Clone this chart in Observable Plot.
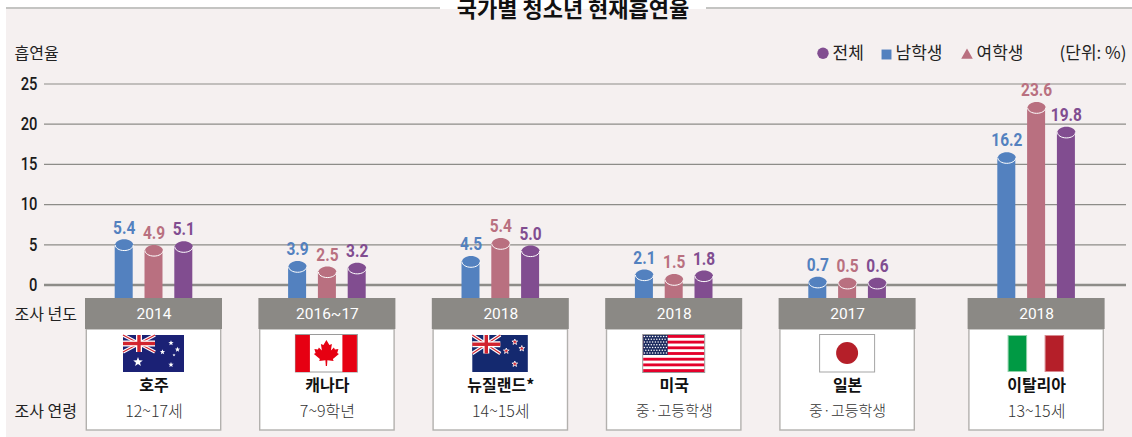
<!DOCTYPE html>
<html><head><meta charset="utf-8">
<script src="https://cdn.jsdelivr.net/npm/d3@7"></script>
<script src="https://cdn.jsdelivr.net/npm/@observablehq/plot@0.6"></script>
<style>
html,body{margin:0;padding:0;background:#fff;width:1132px;height:437px;overflow:hidden}
#bg{position:absolute;left:6px;top:7px;right:0;bottom:0;background:#f5f0f0;border-top:2px solid #c4c4c2}
#chart{position:absolute;left:0;top:0}
</style></head><body><div id="bg"></div><div id="chart"></div>
<script>
const countries=["호주","캐나다","뉴질랜드*","미국","일본","이탈리아"];
const surveyYears=["2014","2016~17","2018","2018","2017","2018"];
const surveyAges=["12~17세","7~9학년","14~15세","중·고등학생","중·고등학생","13~15세"];
const groupSlots=[0,1,2,3,4,5.09];
const seriesNames=["남학생","여학생","전체"];
const male=[5.4,3.9,4.5,2.1,0.7,16.2];
const female=[4.9,2.5,5.4,1.5,0.5,23.6];
const total=[5.1,3.2,5.0,1.8,0.6,19.8];
// height of each cylinder's top as drawn in the picture, in axis units
const maleDrawn=[4.98,2.28,2.90,1.24,0.34,15.83];
const femaleDrawn=[4.29,1.62,5.14,0.66,0.21,22.05];
const totalDrawn=[4.76,2.08,4.23,1.12,0.21,18.99];
const yTicks=[0,5,10,15,20,25];

const colors={"남학생":"#5381bf","여학생":"#b97080","전체":"#814d90"};
const KR='"Noto Sans CJK KR",sans-serif';
const NUM='Roboto,"Noto Sans CJK KR",sans-serif';
const W=1132,H=437,STEP=173.4,X0=153.5,Y0=284.5,UNIT=8.04;
const offset=29.8/STEP;
const bars=[];
[[male,maleDrawn],[female,femaleDrawn],[total,totalDrawn]].forEach(([v,d],s)=>{
  v.forEach((val,i)=>bars.push({i,series:seriesNames[s],value:val,drawn:d[i],x:groupSlots[i]+(s-1)*offset}));
});
const groups=countries.map((c,i)=>({c,slot:groupSlots[i],year:surveyYears[i],age:surveyAges[i]}));
const barHalf=9/STEP;
const ellipse=(rx,ry)=>({draw(ctx){const k=0.5523;
  ctx.moveTo(-rx,0);ctx.bezierCurveTo(-rx,-ry*k,-rx*k,-ry,0,-ry);ctx.bezierCurveTo(rx*k,-ry,rx,-ry*k,rx,0);
  ctx.bezierCurveTo(rx,ry*k,rx*k,ry,0,ry);ctx.bezierCurveTo(-rx*k,ry,-rx,ry*k,-rx,0);ctx.closePath();}});
const lowerArc=(rx,ry)=>({draw(ctx){const k=0.5523;
  ctx.moveTo(-rx,0);ctx.bezierCurveTo(-rx,ry*k,-rx*k,ry,0,ry);ctx.bezierCurveTo(rx*k,ry,rx,ry*k,rx,0);}});
const put=(t,px,py,o={})=>Plot.text([t],{frameAnchor:"top-left",dx:px,dy:py,textAnchor:"start",lineAnchor:"middle",fontFamily:KR,fontSize:16,fill:"#222",...o});
const glyph=(sym,px,py,fill,r)=>Plot.dot([0],{frameAnchor:"top-left",dx:px,dy:py,symbol:sym,fill,r,stroke:"none"});
// condensed digits: no narrow face is installed, so the glyphs are squeezed horizontally
const squeeze=k=>function(index,scales,values,dims,ctx,next){
  const g=next(index,scales,values,dims,ctx);
  g.querySelectorAll("text").forEach(t=>t.setAttribute("transform",(t.getAttribute("transform")||"")+` scale(${k},1)`));
  return g;
};

function star(g,cx,cy,r,fill,stroke){
  const p=[];for(let i=0;i<10;i++){const a=-Math.PI/2+i*Math.PI/5,q=i%2?r*.42:r;p.push([cx+q*Math.cos(a),cy+q*Math.sin(a)]);}
  g.append("polygon").attr("points",p.join(" ")).attr("fill",fill).attr("stroke",stroke||"none").attr("stroke-width",stroke?.8:0);
}
function rect(g,x,y,w,h,fill){return g.append("rect").attr("x",x).attr("y",y).attr("width",w).attr("height",h).attr("fill",fill);}
function jack(g,x,y,w,h,blue){
  rect(g,x,y,w,h,blue);
  const l=(a,b,c,d,s,sw)=>g.append("line").attr("x1",a).attr("y1",b).attr("x2",c).attr("y2",d).attr("stroke",s).attr("stroke-width",sw);
  l(x,y,x+w,y+h,"#fff",3.4);l(x+w,y,x,y+h,"#fff",3.4);
  l(x,y,x+w,y+h,"#d2232e",1.2);l(x+w,y,x,y+h,"#d2232e",1.2);
  rect(g,x+w/2-3,y,6,h,"#fff");rect(g,x,y+h/2-3,w,6,"#fff");
  rect(g,x+w/2-1.7,y,3.4,h,"#d2232e");rect(g,x,y+h/2-1.7,w,3.4,"#d2232e");
}
function flags(index,scales){
  const root=d3.create("svg:g");
  const at=i=>root.append("g").attr("transform",`translate(${scales.x(groupSlots[i])},0)`);
  // Australia
  let g=at(0);rect(g,-30.5,335,61,37,"#1b2175");jack(g,-30.5,335,32,17,"#1b2175");
  star(g,-15.5,362,5,"#fff");[[17.5,343],[9,352],[24,349.5],[17.5,364.7],[20.5,355]].forEach(([x,y],k)=>star(g,x,y,k==4?1.6:2.8,"#fff"));
  // Canada
  g=at(1);rect(g,-31.5,334.5,62,37.5,"#fff").attr("stroke","#9a9a9a");rect(g,-31.5,335,14.5,37,"#e60012");rect(g,15.5,335,14.5,37,"#e60012");
  g.append("path").attr("fill","#e60012").attr("transform","translate(-0.5,353)")
   .attr("d","M0,-13 L3,-8 L5.5,-9 L4.5,-2.5 L7.5,-5.5 L8.5,-3.5 L12,-4 L10.8,0 L12.5,1 L6.5,6 L7.2,8 L1,7.3 L0.6,13 L-0.6,13 L-1,7.3 L-7.2,8 L-6.5,6 L-12.5,1 L-10.8,0 L-12,-4 L-8.5,-3.5 L-7.5,-5.5 L-4.5,-2.5 L-5.5,-9 L-3,-8 Z");
  // New Zealand
  g=at(2);rect(g,-28,335,55.5,37,"#14296f");jack(g,-28,335,28,18.5,"#14296f");
  [[14.5,342],[21.5,348.5],[6,351],[14.5,364]].forEach(([x,y])=>star(g,x,y,3,"#d2232e","#fff"));
  // USA
  g=at(3);rect(g,-31,334.5,62,38,"#fff").attr("stroke","#9a9a9a");
  for(let k=0;k<7;k++)rect(g,-30.5,335+k*2*37/13,61,37/13,"#e4002b");
  rect(g,-30.5,335,24.5,20,"#1c2b5f");
  for(let r=0;r<7;r++)for(let c=0;c<(r%2?8:9);c++)g.append("circle").attr("cx",-29.3+(r%2?1.4:0)+c*2.75).attr("cy",336.6+r*2.75).attr("r",.75).attr("fill","#fff");
  // Japan
  g=at(4);rect(g,-27.5,334.5,55,37.5,"#fff").attr("stroke","#a5a5a5");g.append("circle").attr("cx",0).attr("cy",353).attr("r",11).attr("fill","#b51f29");
  // Italy
  g=at(5);rect(g,-28,335.5,18.5,36,"#009a44").attr("stroke","#8fd0a8");rect(g,9,335.5,18.5,36,"#b51f29").attr("stroke","#d88a90");
  return root.node();
}
const yOf=p=>(Y0-p)/UNIT;
const halfH=68.5/STEP,halfB=67.2/STEP;

const plot=Plot.plot({
  width:W,height:H,margin:0,
  style:{background:"transparent",overflow:"hidden"},
  x:{type:"linear",domain:[-X0/STEP,(W-X0)/STEP],range:[0,W],axis:null},
  y:{type:"linear",domain:[yOf(H),yOf(0)],range:[H,0],axis:null},
  marks:[
    Plot.rect([0],{x1:()=>(440-X0)/STEP,x2:()=>(706-X0)/STEP,y1:()=>yOf(0),y2:()=>yOf(9),fill:"#fff"}),
    Plot.ruleY(yTicks.filter(d=>d>0),{y:d=>d,x1:(44-X0)/STEP,x2:(1126-X0)/STEP,stroke:"#8d8c88",strokeWidth:1.2}),
    Plot.ruleY([0],{x1:(44-X0)/STEP,x2:(1126-X0)/STEP,stroke:"#8d8c88",strokeWidth:2.6}),
    Plot.text(yTicks,{x:(37-X0)/STEP,y:d=>d,text:d=>String(d),textAnchor:"end",lineAnchor:"middle",fontFamily:NUM,fontWeight:500,fontSize:18,fill:"#1a1a1a",render:squeeze(.82)}),
    Plot.rect(bars,{x1:d=>d.x-barHalf,x2:d=>d.x+barHalf,y1:yOf(300),y2:"drawn",fill:d=>colors[d.series]}),
    Plot.dot(bars,{x:"x",y:"drawn",r:9,symbol:ellipse(9,5.6),fill:d=>colors[d.series],stroke:"none"}),
    Plot.dot(bars,{x:"x",y:"drawn",r:9,symbol:lowerArc(9,5.6),fill:"none",stroke:"#fff",strokeWidth:1}),
    Plot.text(bars,{x:"x",y:"drawn",dy:-17,text:d=>d.value.toFixed(1),lineAnchor:"middle",fill:d=>colors[d.series],fontFamily:NUM,fontWeight:700,fontSize:18,render:squeeze(.86)}),
    Plot.rect(groups,{x1:d=>d.slot-halfB,x2:d=>d.slot+halfB,y1:yOf(430),y2:yOf(329),fill:"#fff",stroke:"#b3b1ae",strokeWidth:1.4}),
    Plot.rect(groups,{x1:d=>d.slot-halfH,x2:d=>d.slot+halfH,y1:yOf(329),y2:yOf(298),fill:"#8b8985"}),
    Plot.text(groups,{x:"slot",y:yOf(314),text:"year",fill:"#fff",fontFamily:NUM,fontSize:15.5,lineAnchor:"middle"}),
    Plot.text(groups,{x:"slot",y:yOf(385),text:"c",fill:"#111",fontFamily:KR,fontWeight:700,fontSize:16,lineAnchor:"middle"}),
    Plot.text(groups.filter(d=>/\d/.test(d.age)),{x:"slot",y:yOf(411),text:"age",fill:"#333",fontFamily:KR,fontWeight:300,fontSize:16,lineAnchor:"middle"}),
    Plot.text(groups.filter(d=>!/\d/.test(d.age)),{x:"slot",y:yOf(411),text:"age",fill:"#333",fontFamily:KR,fontWeight:300,fontSize:15,lineAnchor:"middle"}),
    flags,
    put("국가별 청소년 현재흡연율",572.5,9,{textAnchor:"middle",fontWeight:700,fontSize:22,fill:"#111"}),
    put("흡연율",14,53),
    put("조사 년도",14,314),
    put("조사 연령",14,411),
    glyph("circle",822.5,52.8,colors["전체"],5.7),
    put("전체",832,53,{fontSize:17}),
    glyph("square",886,54,colors["남학생"],5.6),
    put("남학생",895,53,{fontSize:17}),
    glyph("triangle",966.5,54.8,colors["여학생"],4.3),
    put("여학생",976,53,{fontSize:17}),
    put("(단위: %)",1059,53,{fontSize:17})
  ]
});
document.getElementById("chart").append(plot);
</script></body></html>
